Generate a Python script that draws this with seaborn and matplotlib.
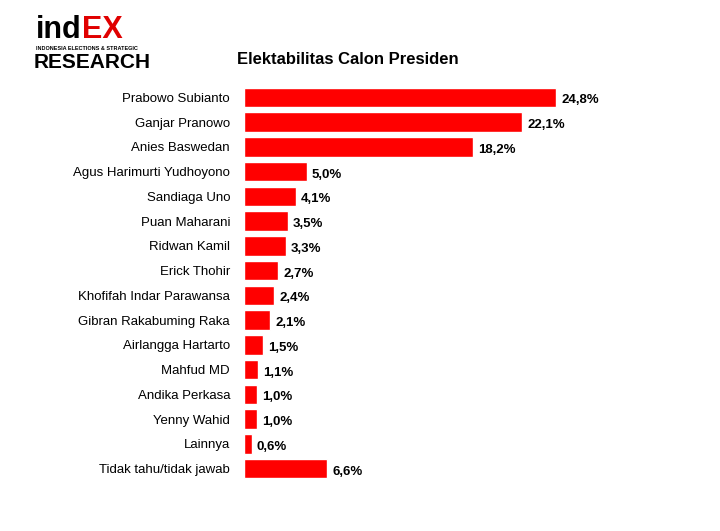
import matplotlib
matplotlib.use("Agg")
import matplotlib.pyplot as plt
import seaborn as sns
import pandas as pd

names = ["Prabowo Subianto", "Ganjar Pranowo", "Anies Baswedan", "Agus Harimurti Yudhoyono",
         "Sandiaga Uno", "Puan Maharani", "Ridwan Kamil", "Erick Thohir",
         "Khofifah Indar Parawansa", "Gibran Rakabuming Raka", "Airlangga Hartarto",
         "Mahfud MD", "Andika Perkasa", "Yenny Wahid", "Lainnya", "Tidak tahu/tidak jawab"]
values = [24.8, 22.1, 18.2, 5.0, 4.1, 3.5, 3.3, 2.7, 2.4, 2.1, 1.5, 1.1, 1.0, 1.0, 0.6, 6.6]

df = pd.DataFrame({"name": names, "value": values})

sns.set_style("white")
plt.rcParams['font.family'] = ['Liberation Sans', 'DejaVu Sans']
plt.rcParams['text.color'] = 'black'
plt.rcParams['ytick.color'] = 'black'

fig = plt.figure(figsize=(7.2, 5.31), dpi=100)
ax = fig.add_axes([244 / 720, 1 - 481 / 531, 378 / 720, 396 / 531])
sns.barplot(data=df, x="value", y="name", color="#ff0000", saturation=1, width=0.78, ax=ax)
ax.set_xlim(0, 30)
ax.set_ylim(15.5, -0.5)
for i, v in enumerate(values):
    ax.text(v + 0.4, i + 0.12, f"{v:.1f}".replace(".", ",") + "%", va="center", ha="left",
            fontsize=9.5, fontweight="bold", color="black")
ax.set_xlabel("")
ax.set_ylabel("")
ax.set_xticks([])
ax.tick_params(axis="y", length=0, labelsize=9.5, pad=10, labelcolor="black")
sns.despine(ax=ax, left=True, bottom=True)

fig.text(348 / 720, 1 - 59 / 531, "Elektabilitas Calon Presiden", ha="center", va="center",
         fontsize=12, fontweight="bold", color="black")

# logo
fig.text(36 / 720, 1 - 30 / 531, "ind", ha="left", va="center", fontsize=22,
         fontweight="bold", color="black")
fig.text(82 / 720, 1 - 30 / 531, "EX", ha="left", va="center", fontsize=22,
         fontweight="bold", color="#e00000")
fig.text(36 / 720, 1 - 48 / 531, "INDONESIA ELECTIONS & STRATEGIC", ha="left", va="center",
         fontsize=4, fontweight="bold", color="black")
fig.text(34 / 720, 1 - 63 / 531, "RESEARCH", ha="left", va="center", fontsize=15,
         fontweight="bold", color="black")

fig.savefig("out.png", dpi=100)
